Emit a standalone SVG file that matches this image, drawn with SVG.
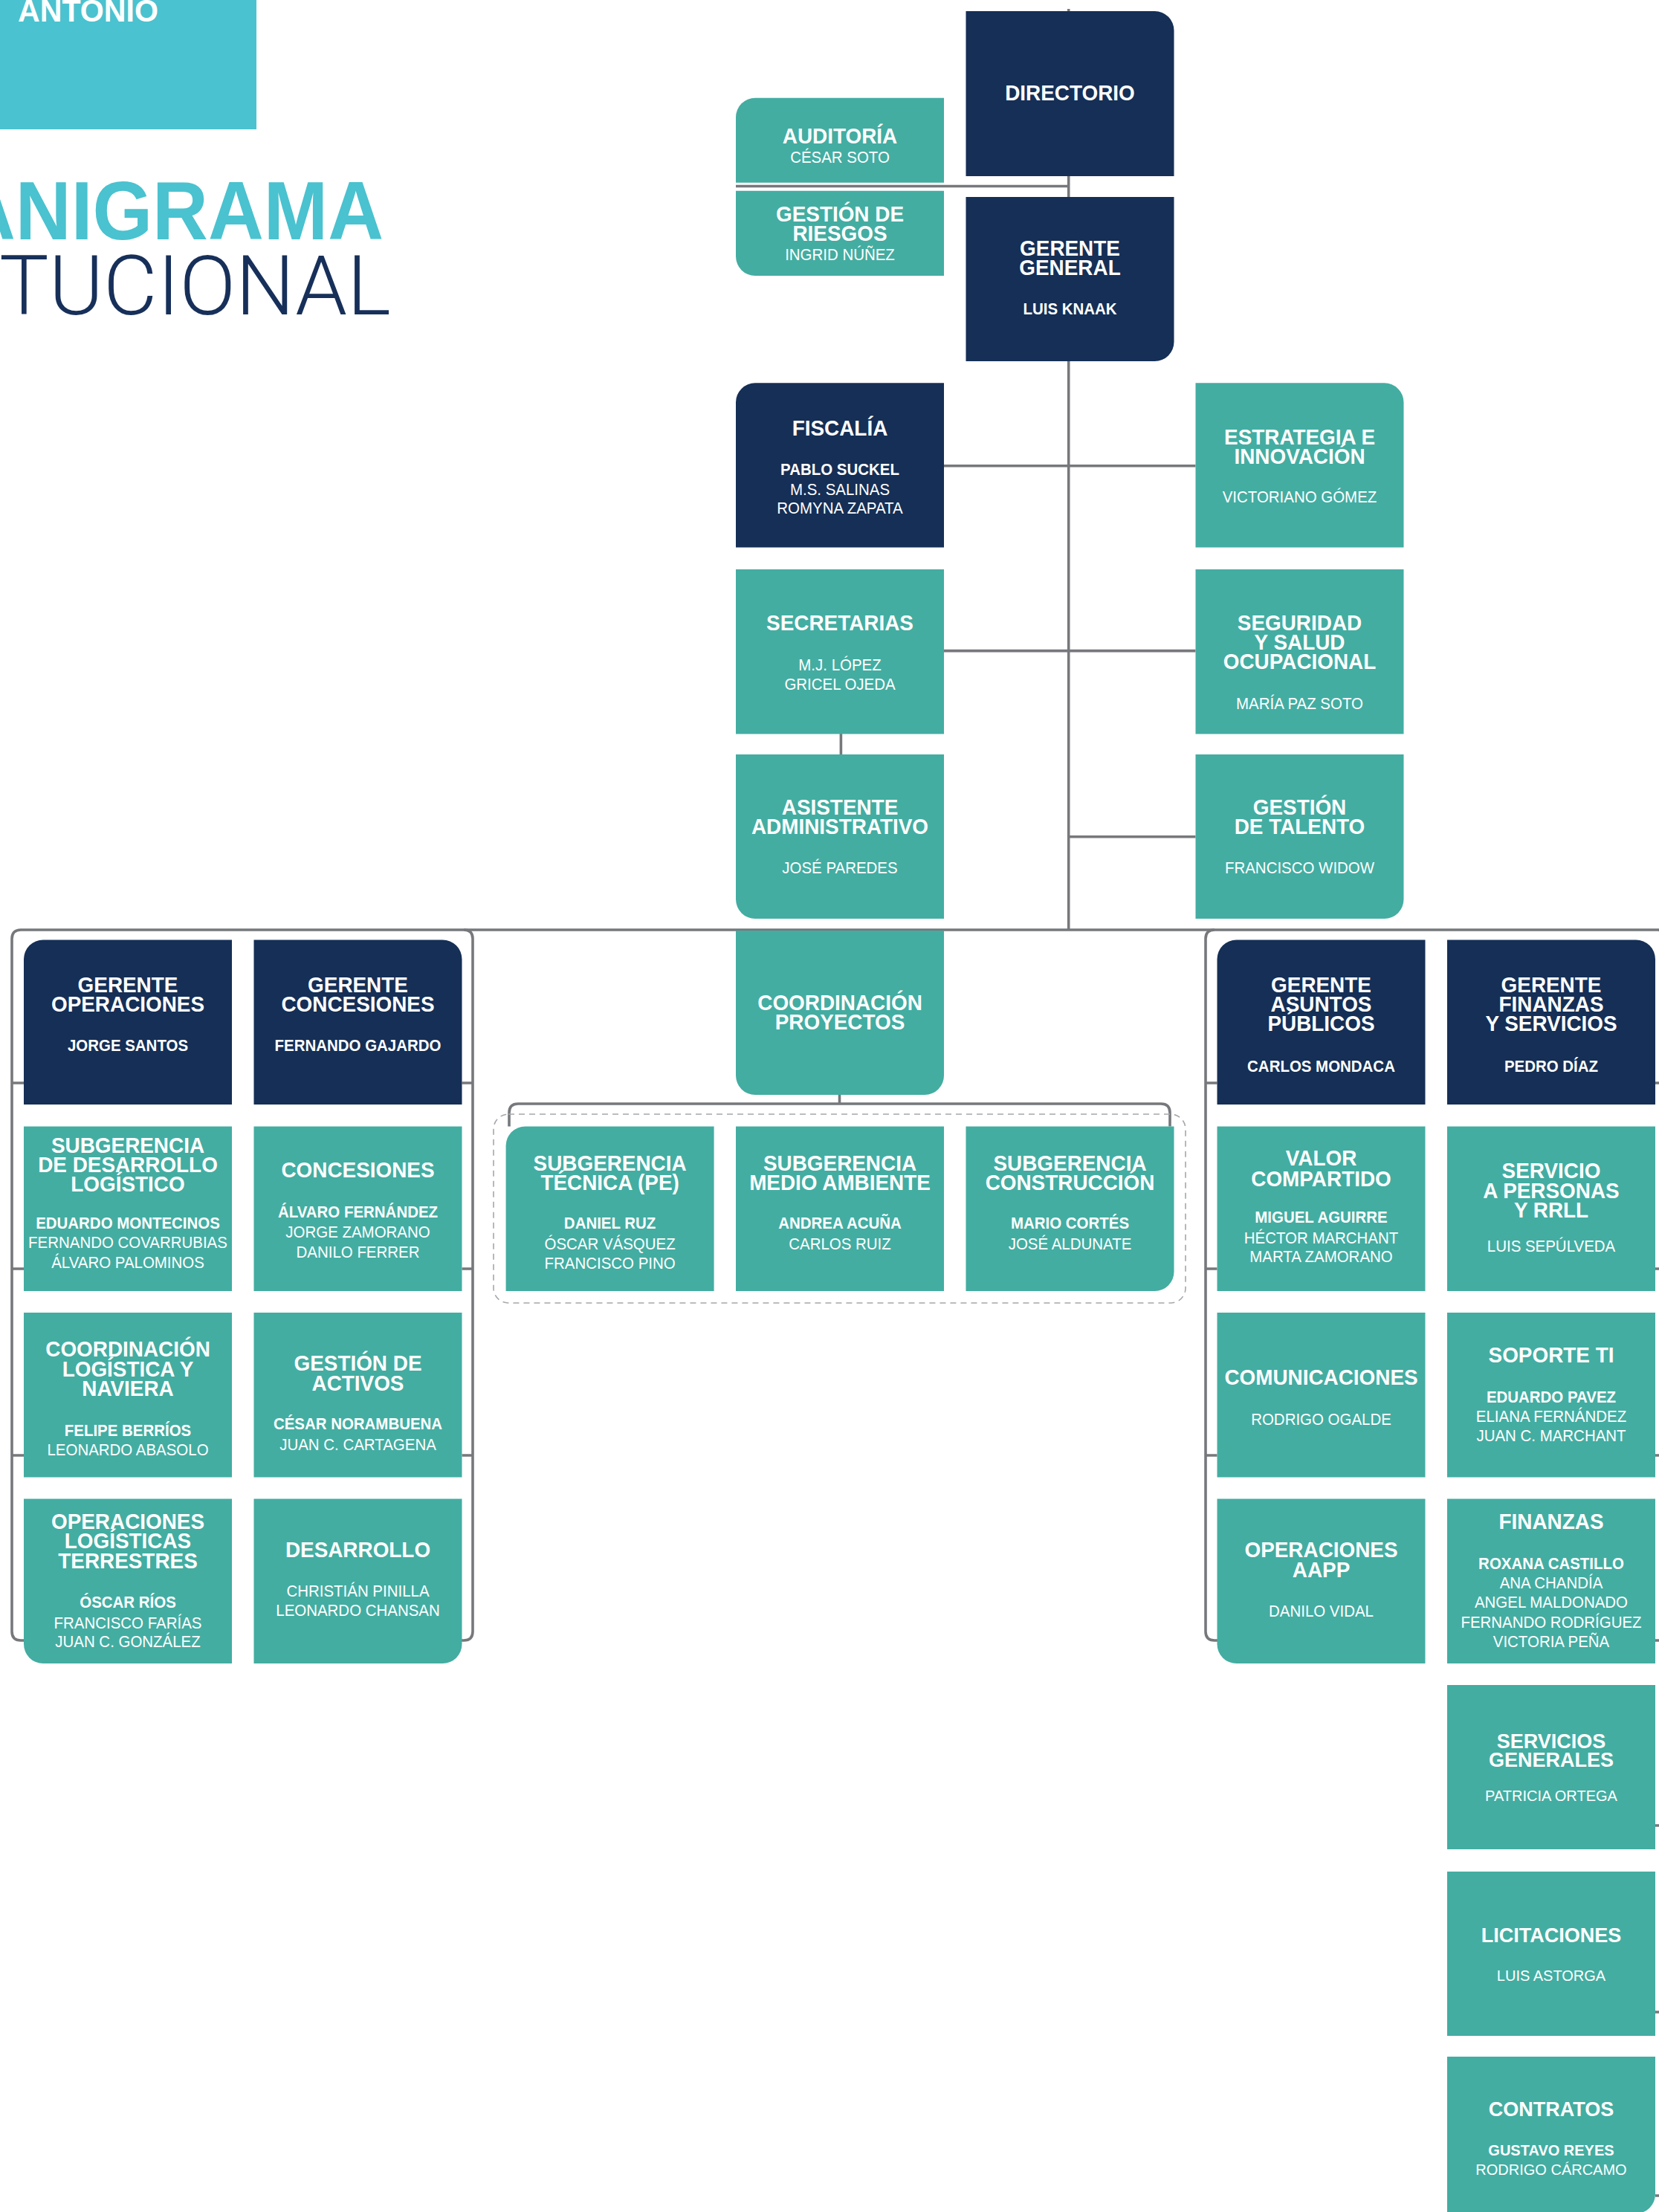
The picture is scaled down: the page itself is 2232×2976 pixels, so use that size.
<svg xmlns="http://www.w3.org/2000/svg" width="2232" height="2976" viewBox="0 0 2232 2976">
<style>
.n{fill:#152f56}
.m{fill:#43ada2}
.c{fill:none;stroke:#76787c;stroke-width:3.6}
.d{fill:none;stroke:#a5a7aa;stroke-width:1.6;stroke-dasharray:8 6}
text{font-family:"Liberation Sans",Arial,sans-serif;fill:#fff;text-anchor:middle}
.t{font-size:30px;font-weight:700}
.b{font-size:22px;font-weight:700}
.r{font-size:22px}
.tw{font-size:27px;font-weight:700}
.bw{font-size:20px;font-weight:700}
.rw{font-size:20px}
</style>
<rect x="0" y="0" width="345" height="174" fill="#4ac2cf"/>
<text x="24" y="29" style="text-anchor:start;font-size:42px;font-weight:700" textLength="189" lengthAdjust="spacingAndGlyphs">ANTONIO</text>
<text x="-54" y="322" style="text-anchor:start;font-size:112px;font-weight:700;fill:#4ac2cf" textLength="570" lengthAdjust="spacingAndGlyphs">ANIGRAMA</text>
<text x="-1" y="423" style="text-anchor:start;font-family:Roboto,'Liberation Sans',sans-serif;font-size:111px;font-weight:300;fill:#17305a" textLength="527" lengthAdjust="spacingAndGlyphs">TUCIONAL</text>
<g id="connectors">
<path class="c" d="M1437.7 12 V1251"/>
<path class="c" d="M990 250.5 H1437.7"/>
<path class="c" d="M1270 626.8 H1608.5"/>
<path class="c" d="M1270 875.6 H1608.5"/>
<path class="c" d="M1437.7 1125.8 H1608.5"/>
<path class="c" d="M1131.4 987 V1015"/>
<path class="c" d="M28 1251 H2230"/>
<path class="c" d="M28 1251 Q16 1251 16 1263 V2195 Q16 2207 28 2207 H40"/>
<path class="c" d="M624 1251 Q636 1251 636 1263 V2195 Q636 2207 624 2207 H612"/>
<path class="c" d="M1634 1251 Q1622 1251 1622 1263 V2195 Q1622 2207 1634 2207 H1645"/>
<path class="c" d="M2230 1251 Q2242 1251 2242 1263 V2956"/>
<path class="c" d="M16 1457 H32 M16 1707 H32 M16 1958 H32 M621.5 1457 H636 M621.5 1707 H636 M621.5 1958 H636"/>
<path class="c" d="M1622 1457 H1637.5 M1622 1707 H1637.5 M1622 1958 H1637.5"/>
<path class="c" d="M2227 1457 H2242 M2227 1707 H2242 M2227 1958 H2242 M2227 2207 H2242 M2227 2456 H2242 M2227 2707 H2242 M2227 2954 H2242"/>
<path class="c" d="M1129.5 1473 V1485"/>
<path class="c" d="M685 1515.5 V1497 Q685 1485 697 1485 H1562 Q1574 1485 1574 1497 V1515.5"/>
<rect class="d" x="664" y="1499" width="931" height="254" rx="20"/>
</g>
<g id="directorio"><path class="n" d="M1299.5 15 H1553.5 A26 26 0 0 1 1579.5 41 V237 H1299.5 Z"/>
<g transform="translate(1439.5 0) scale(0.93 1)"><text class="t" y="135">DIRECTORIO</text></g></g>
<g id="auditoria"><path class="m" d="M990 157.7 A26 26 0 0 1 1016 131.7 H1270 V245.7 H990 Z"/>
<g transform="translate(1130 0) scale(0.93 1)"><text class="t" y="192.7">AUDITORÍA</text><text class="r" y="219">CÉSAR SOTO</text></g></g>
<g id="gestion-riesgos"><path class="m" d="M990 256.7 H1270 V371 H1016 A26 26 0 0 1 990 345 Z"/>
<g transform="translate(1130 0) scale(0.93 1)"><text class="t" y="297.7">GESTIÓN DE</text><text class="t" y="324.3">RIESGOS</text><text class="r" y="350">INGRID NÚÑEZ</text></g></g>
<g id="gerente-general"><path class="n" d="M1299.5 265 H1579.5 V460 A26 26 0 0 1 1553.5 486 H1299.5 Z"/>
<g transform="translate(1439.5 0) scale(0.93 1)"><text class="t" y="344.3">GERENTE</text><text class="t" y="370">GENERAL</text><text class="b" y="423.3">LUIS KNAAK</text></g></g>
<g id="fiscalia"><path class="n" d="M990 541.3 A26 26 0 0 1 1016 515.3 H1270 V736.5 H990 Z"/>
<g transform="translate(1130 0) scale(0.93 1)"><text class="t" y="586">FISCALÍA</text><text class="b" y="638.8">PABLO SUCKEL</text><text class="r" y="666">M.S. SALINAS</text><text class="r" y="691.4">ROMYNA ZAPATA</text></g></g>
<g id="estrategia"><path class="m" d="M1608.5 515.3 H1862.5 A26 26 0 0 1 1888.5 541.3 V736.5 H1608.5 Z"/>
<g transform="translate(1748.5 0) scale(0.93 1)"><text class="t" y="598">ESTRATEGIA E</text><text class="t" y="624.4">INNOVACIÓN</text><text class="r" y="676">VICTORIANO GÓMEZ</text></g></g>
<g id="secretarias"><rect class="m" x="990" y="766" width="280" height="221.5"/>
<g transform="translate(1130 0) scale(0.93 1)"><text class="t" y="848.3">SECRETARIAS</text><text class="r" y="902">M.J. LÓPEZ</text><text class="r" y="928.2">GRICEL OJEDA</text></g></g>
<g id="seguridad"><rect class="m" x="1608.5" y="766" width="280" height="221.5"/>
<g transform="translate(1748.5 0) scale(0.93 1)"><text class="t" y="848.3">SEGURIDAD</text><text class="t" y="874.2">Y SALUD</text><text class="t" y="900.5">OCUPACIONAL</text><text class="r" y="954.5">MARÍA PAZ SOTO</text></g></g>
<g id="asistente"><path class="m" d="M990 1015 H1270 V1236 H1016 A26 26 0 0 1 990 1210 Z"/>
<g transform="translate(1130 0) scale(0.93 1)"><text class="t" y="1095.7">ASISTENTE</text><text class="t" y="1122">ADMINISTRATIVO</text><text class="r" y="1174.6">JOSÉ PAREDES</text></g></g>
<g id="talento"><path class="m" d="M1608.5 1015 H1888.5 V1210 A26 26 0 0 1 1862.5 1236 H1608.5 Z"/>
<g transform="translate(1748.5 0) scale(0.93 1)"><text class="t" y="1095.7">GESTIÓN</text><text class="t" y="1122">DE TALENTO</text><text class="r" y="1174.6">FRANCISCO WIDOW</text></g></g>
<g id="gerente-operaciones"><path class="n" d="M32 1290.5 A26 26 0 0 1 58 1264.5 H312 V1486 H32 Z"/>
<g transform="translate(172 0) scale(0.93 1)"><text class="t" y="1335">GERENTE</text><text class="t" y="1360.7">OPERACIONES</text><text class="b" y="1414">JORGE SANTOS</text></g></g>
<g id="gerente-concesiones"><path class="n" d="M341.5 1264.5 H595.5 A26 26 0 0 1 621.5 1290.5 V1486 H341.5 Z"/>
<g transform="translate(481.5 0) scale(0.93 1)"><text class="t" y="1335">GERENTE</text><text class="t" y="1360.7">CONCESIONES</text><text class="b" y="1414">FERNANDO GAJARDO</text></g></g>
<g id="subgerencia-desarrollo"><rect class="m" x="32" y="1515.5" width="280" height="221.5"/>
<g transform="translate(172 0) scale(0.93 1)"><text class="t" y="1551">SUBGERENCIA</text><text class="t" y="1576.7">DE DESARROLLO</text><text class="t" y="1603.3">LOGÍSTICO</text><text class="b" y="1653.3">EDUARDO MONTECINOS</text><text class="r" y="1679.3">FERNANDO COVARRUBIAS</text><text class="r" y="1706">ÁLVARO PALOMINOS</text></g></g>
<g id="concesiones"><rect class="m" x="341.5" y="1515.5" width="280" height="221.5"/>
<g transform="translate(481.5 0) scale(0.93 1)"><text class="t" y="1584">CONCESIONES</text><text class="b" y="1638.3">ÁLVARO FERNÁNDEZ</text><text class="r" y="1665">JORGE ZAMORANO</text><text class="r" y="1691.7">DANILO FERRER</text></g></g>
<g id="coordinacion-logistica"><rect class="m" x="32" y="1766" width="280" height="221.5"/>
<g transform="translate(172 0) scale(0.93 1)"><text class="t" y="1825">COORDINACIÓN</text><text class="t" y="1851.7">LOGÍSTICA Y</text><text class="t" y="1878.3">NAVIERA</text><text class="b" y="1931.7">FELIPE BERRÍOS</text><text class="r" y="1958.3">LEONARDO ABASOLO</text></g></g>
<g id="gestion-activos"><rect class="m" x="341.5" y="1766" width="280" height="221.5"/>
<g transform="translate(481.5 0) scale(0.93 1)"><text class="t" y="1844">GESTIÓN DE</text><text class="t" y="1870.7">ACTIVOS</text><text class="b" y="1923.3">CÉSAR NORAMBUENA</text><text class="r" y="1950.7">JUAN C. CARTAGENA</text></g></g>
<g id="operaciones-terrestres"><path class="m" d="M32 2016.5 H312 V2238 H58 A26 26 0 0 1 32 2212 Z"/>
<g transform="translate(172 0) scale(0.93 1)"><text class="t" y="2056.7">OPERACIONES</text><text class="t" y="2083.3">LOGÍSTICAS</text><text class="t" y="2110">TERRESTRES</text><text class="b" y="2163.3">ÓSCAR RÍOS</text><text class="r" y="2190.7">FRANCISCO FARÍAS</text><text class="r" y="2216">JUAN C. GONZÁLEZ</text></g></g>
<g id="desarrollo"><path class="m" d="M341.5 2016.5 H621.5 V2212 A26 26 0 0 1 595.5 2238 H341.5 Z"/>
<g transform="translate(481.5 0) scale(0.93 1)"><text class="t" y="2095">DESARROLLO</text><text class="r" y="2148.3">CHRISTIÁN PINILLA</text><text class="r" y="2174.3">LEONARDO CHANSAN</text></g></g>
<g id="coordinacion-proyectos"><path class="m" d="M990 1252 H1270 V1447 A26 26 0 0 1 1244 1473 H1016 A26 26 0 0 1 990 1447 Z"/>
<g transform="translate(1130 0) scale(0.93 1)"><text class="t" y="1358.8">COORDINACIÓN</text><text class="t" y="1384.6">PROYECTOS</text></g></g>
<g id="subgerencia-tecnica"><path class="m" d="M680.6 1541.5 A26 26 0 0 1 706.6 1515.5 H960.6 V1737 H680.6 Z"/>
<g transform="translate(820.6 0) scale(0.93 1)"><text class="t" y="1574.7">SUBGERENCIA</text><text class="t" y="1600.9">TÉCNICA (PE)</text><text class="b" y="1653.2">DANIEL RUZ</text><text class="r" y="1680.8">ÓSCAR VÁSQUEZ</text><text class="r" y="1706.6">FRANCISCO PINO</text></g></g>
<g id="subgerencia-medio-ambiente"><rect class="m" x="990" y="1515.5" width="280" height="221.5"/>
<g transform="translate(1130 0) scale(0.93 1)"><text class="t" y="1574.7">SUBGERENCIA</text><text class="t" y="1600.9">MEDIO AMBIENTE</text><text class="b" y="1653.2">ANDREA ACUÑA</text><text class="r" y="1680.8">CARLOS RUIZ</text></g></g>
<g id="subgerencia-construccion"><path class="m" d="M1299.5 1515.5 H1579.5 V1711 A26 26 0 0 1 1553.5 1737 H1299.5 Z"/>
<g transform="translate(1439.5 0) scale(0.93 1)"><text class="t" y="1574.7">SUBGERENCIA</text><text class="t" y="1600.9">CONSTRUCCIÓN</text><text class="b" y="1653.2">MARIO CORTÉS</text><text class="r" y="1680.8">JOSÉ ALDUNATE</text></g></g>
<g id="gerente-asuntos-publicos"><path class="n" d="M1637.5 1290.5 A26 26 0 0 1 1663.5 1264.5 H1917.5 V1486 H1637.5 Z"/>
<g transform="translate(1777.5 0) scale(0.93 1)"><text class="t" y="1335">GERENTE</text><text class="t" y="1360.7">ASUNTOS</text><text class="t" y="1387.3">PÚBLICOS</text><text class="b" y="1441.7">CARLOS MONDACA</text></g></g>
<g id="gerente-finanzas"><path class="n" d="M1947 1264.5 H2201 A26 26 0 0 1 2227 1290.5 V1486 H1947 Z"/>
<g transform="translate(2087 0) scale(0.93 1)"><text class="t" y="1335">GERENTE</text><text class="t" y="1360.7">FINANZAS</text><text class="t" y="1387.3">Y SERVICIOS</text><text class="b" y="1441.7">PEDRO DÍAZ</text></g></g>
<g id="valor-compartido"><rect class="m" x="1637.5" y="1515.5" width="280" height="221.5"/>
<g transform="translate(1777.5 0) scale(0.93 1)"><text class="t" y="1568.3">VALOR</text><text class="t" y="1596">COMPARTIDO</text><text class="b" y="1645">MIGUEL AGUIRRE</text><text class="r" y="1672.7">HÉCTOR MARCHANT</text><text class="r" y="1698.3">MARTA ZAMORANO</text></g></g>
<g id="servicio-personas"><rect class="m" x="1947" y="1515.5" width="280" height="221.5"/>
<g transform="translate(2087 0) scale(0.93 1)"><text class="t" y="1585">SERVICIO</text><text class="t" y="1611.7">A PERSONAS</text><text class="t" y="1638.3">Y RRLL</text><text class="r" y="1684.3">LUIS SEPÚLVEDA</text></g></g>
<g id="comunicaciones"><rect class="m" x="1637.5" y="1766" width="280" height="221.5"/>
<g transform="translate(1777.5 0) scale(0.93 1)"><text class="t" y="1863.3">COMUNICACIONES</text><text class="r" y="1916.7">RODRIGO OGALDE</text></g></g>
<g id="soporte-ti"><rect class="m" x="1947" y="1766" width="280" height="221.5"/>
<g transform="translate(2087 0) scale(0.93 1)"><text class="t" y="1833.3">SOPORTE TI</text><text class="b" y="1886.7">EDUARDO PAVEZ</text><text class="r" y="1912.7">ELIANA FERNÁNDEZ</text><text class="r" y="1939.3">JUAN C. MARCHANT</text></g></g>
<g id="operaciones-aapp"><path class="m" d="M1637.5 2016.5 H1917.5 V2238 H1663.5 A26 26 0 0 1 1637.5 2212 Z"/>
<g transform="translate(1777.5 0) scale(0.93 1)"><text class="t" y="2095">OPERACIONES</text><text class="t" y="2121.7">AAPP</text><text class="r" y="2175">DANILO VIDAL</text></g></g>
<g id="finanzas"><rect class="m" x="1947" y="2016.5" width="280" height="221.5"/>
<g transform="translate(2087 0) scale(0.93 1)"><text class="t" y="2057.3">FINANZAS</text><text class="b" y="2110.7">ROXANA CASTILLO</text><text class="r" y="2137.3">ANA CHANDÍA</text><text class="r" y="2163.3">ANGEL MALDONADO</text><text class="r" y="2190">FERNANDO RODRÍGUEZ</text><text class="r" y="2216">VICTORIA PEÑA</text></g></g>
<g id="servicios-generales"><rect class="m" x="1947" y="2267" width="280" height="221"/>
<text class="tw" x="2087" y="2351.7">SERVICIOS</text><text class="tw" x="2087" y="2377">GENERALES</text><text class="rw" x="2087" y="2423">PATRICIA ORTEGA</text></g>
<g id="licitaciones"><rect class="m" x="1947" y="2518" width="280" height="221"/>
<text class="tw" x="2087" y="2613">LICITACIONES</text><text class="rw" x="2087" y="2665">LUIS ASTORGA</text></g>
<g id="contratos"><path class="m" d="M1947 2767 H2227 V2952 A26 26 0 0 1 2201 2978 H1947 Z"/>
<text class="tw" x="2087" y="2846.6">CONTRATOS</text><text class="bw" x="2087" y="2899.6">GUSTAVO REYES</text><text class="rw" x="2087" y="2926.4">RODRIGO CÁRCAMO</text></g>
</svg>
